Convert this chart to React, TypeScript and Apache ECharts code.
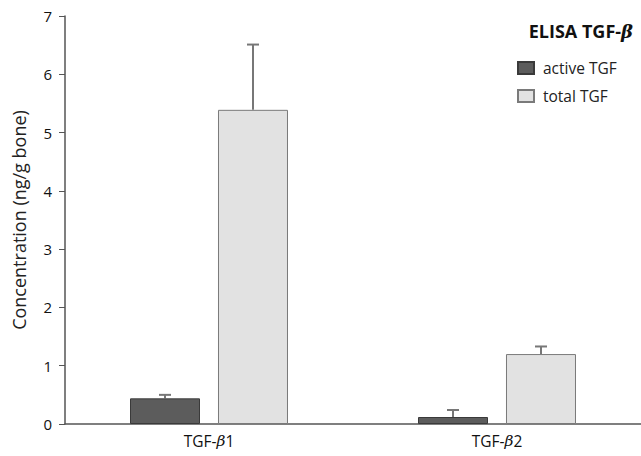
import React, { useEffect, useRef } from "react";
import * as echarts from "echarts";

const categories = ["TGF-β1", "TGF-β2"];
const activeValues = [0.44, 0.12];
const activeErrors = [0.06, 0.12];
const totalValues = [5.39, 1.2];
const totalErrors = [1.12, 0.13];
const yTicks = [0, 1, 2, 3, 4, 5, 6, 7];

const FONT = "'Open Sans', 'Noto Sans', sans-serif";
const BAR_W = 70;
const OFFSET = 44;

function errSeries(name: string, vals: number[], errs: number[], off: number) {
  return {
    type: "custom",
    name: name + "-err",
    silent: true,
    z: 1,
    data: vals.map((v, i) => [i, v, v + errs[i]]),
    renderItem: (_p: any, api: any) => {
      const i = api.value(0);
      const base = api.coord([i, api.value(1)]);
      const top = api.coord([i, api.value(2)]);
      const x = base[0] + off;
      const style = { stroke: "#777", lineWidth: 2 };
      return {
        type: "group",
        children: [
          { type: "line", shape: { x1: x, y1: base[1], x2: x, y2: top[1] }, style },
          { type: "line", shape: { x1: x - 6, y1: top[1], x2: x + 6, y2: top[1] }, style },
        ],
      };
    },
  };
}

export default function App() {
  const ref = useRef<HTMLDivElement>(null);
  useEffect(() => {
    const chart = echarts.init(ref.current!, null, { renderer: "svg" });
    chart.setOption({
      animation: false,
      backgroundColor: "#fff",
      textStyle: { fontFamily: FONT },
      title: {
        text: "{b|ELISA TGF-}{i|β}",
        right: 8,
        top: 22,
        padding: 0,
        textStyle: {
          rich: {
            b: { fontFamily: FONT, fontWeight: "bold", fontSize: 18, color: "#111" },
            i: { fontFamily: "'DejaVu Serif', serif", fontStyle: "italic", fontSize: 18, color: "#111" },
          },
        },
      },
      legend: {
        orient: "vertical",
        left: 517,
        top: 60,
        padding: 0,
        icon: "rect",
        itemWidth: 16,
        itemHeight: 12,
        itemGap: 12,
        data: ["active TGF", "total TGF"],
        textStyle: { fontFamily: FONT, fontSize: 15.5, color: "#222", padding: [0, 0, 0, 4] },
      },
      grid: { left: 65, right: -5, top: 16, bottom: 32, containLabel: false },
      xAxis: {
        type: "category",
        data: categories,
        axisLine: { lineStyle: { color: "#555", width: 1.5 } },
        axisTick: { alignWithLabel: true, length: 5, lineStyle: { color: "#555" } },
        axisLabel: {
          margin: 9,
          fontSize: 15.5,
          color: "#111",
          formatter: (v: string) => v.replace("β", "{i|β}"),
          rich: {
            i: { fontFamily: "'DejaVu Serif', serif", fontStyle: "italic", fontSize: 15.5, color: "#111" },
          },
        },
      },
      yAxis: {
        type: "value",
        min: yTicks[0],
        max: yTicks[yTicks.length - 1],
        interval: 1,
        name: "Concentration (ng/g bone)",
        nameLocation: "middle",
        nameGap: 37,
        nameTextStyle: { fontFamily: FONT, fontSize: 18, color: "#222" },
        splitLine: { show: false },
        axisLine: { show: true, lineStyle: { color: "#555", width: 1.5 } },
        axisTick: { show: true, length: 6, lineStyle: { color: "#555" } },
        axisLabel: { fontSize: 15, color: "#111", margin: 13 },
      },
      series: [
        {
          name: "active TGF",
          type: "bar",
          data: activeValues,
          barWidth: BAR_W,
          barGap: "25.7%",
          z: 2,
          itemStyle: { color: "#5c5c5c", borderColor: "#3a3a3a", borderWidth: 1 },
        },
        {
          name: "total TGF",
          type: "bar",
          data: totalValues,
          barWidth: BAR_W,
          z: 2,
          itemStyle: { color: "#e2e2e2", borderColor: "#7a7a7a", borderWidth: 1 },
        },
        errSeries("active", activeValues, activeErrors, -OFFSET),
        errSeries("total", totalValues, totalErrors, OFFSET),
      ],
    });
    return () => chart.dispose();
  }, []);
  return (
    <div
      ref={ref}
      style={{ position: "fixed", left: 0, top: 0, width: 641, height: 456 }}
    />
  );
}
